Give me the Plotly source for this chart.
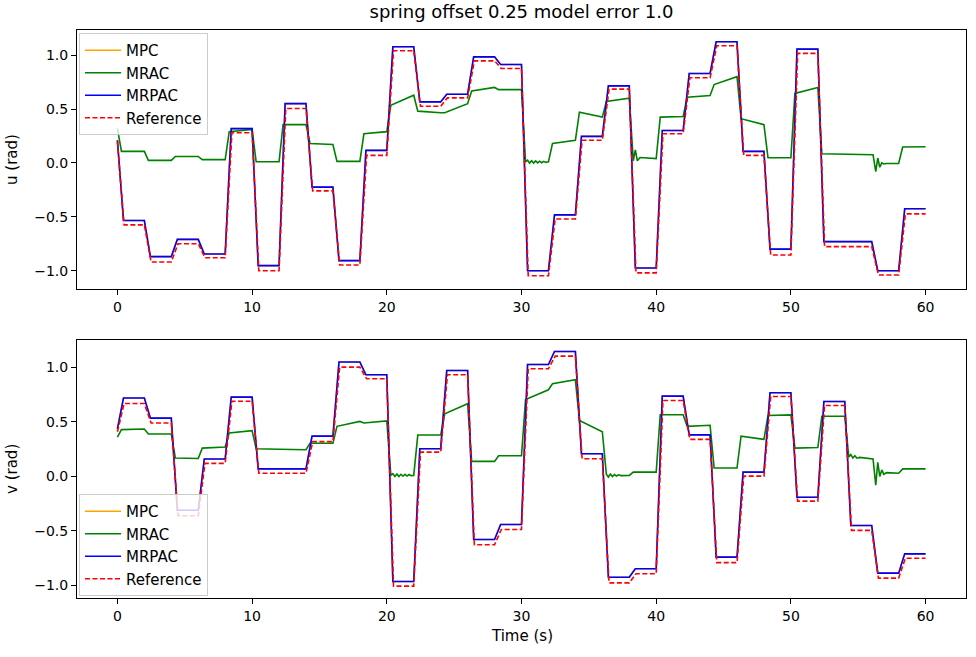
import plotly.graph_objects as go

# ---------------- data ----------------
step_times = [0, 2, 4, 6, 8, 10, 12, 14, 16, 18, 20, 22, 24, 26, 28,
              30, 32, 34, 36, 38, 40, 42, 44, 46, 48, 50, 52, 54, 56, 58]
end_time = 60
x_ticks = [0, 10, 20, 30, 40, 50, 60]
y_ticks = [-1.0, -0.5, 0.0, 0.5, 1.0]

# u (rad) -- top panel
u_ref_init = 0.20
u_ref = [-0.575, -0.92, -0.75, -0.88, 0.28, -1.0, 0.505, -0.26, -0.947, 0.07,
         1.04, 0.525, 0.603, 0.947, 0.876, -1.047, -0.52, 0.21, 0.684, -1.02,
         0.27, 0.79, 1.087, 0.07, -0.854, 1.016, -0.777, -0.777, -1.04, -0.473]
u_mrpac_init = 0.21
u_mrpac = [-0.535, -0.87, -0.71, -0.845, 0.318, -0.953, 0.55, -0.225, -0.907, 0.116,
           1.077, 0.566, 0.637, 0.984, 0.913, -1.0, -0.482, 0.246, 0.715, -0.975,
           0.30, 0.83, 1.124, 0.107, -0.80, 1.056, -0.73, -0.73, -1.0, -0.426]
u_mpc_init = 0.21
u_mpc = [-0.535, -0.87, -0.71, -0.845, 0.318, -0.953, 0.55, -0.225, -0.907, 0.116,
         1.077, 0.566, 0.637, 0.984, 0.913, -1.0, -0.482, 0.246, 0.715, -0.975,
         0.30, 0.83, 1.124, 0.107, -0.80, 1.056, -0.73, -0.73, -1.0, -0.426]
u_mrac_init = 0.32
u_mrac_start = [0.107, 0.023, 0.06, 0.03, 0.29, 0.01, 0.355, 0.18, 0.014, 0.27,
                0.535, 0.48, 0.465, 0.668, 0.68, 0.01, 0.18, 0.47, 0.57, 0.04,
                0.425, 0.61, 0.727, 0.41, 0.048, 0.644, 0.085, 0.08, -0.005, 0.147]
u_mrac_end = [0.107, 0.023, 0.06, 0.03, 0.31, 0.01, 0.355, 0.17, 0.014, 0.29,
              0.628, 0.465, 0.55, 0.70, 0.68, 0.01, 0.21, 0.425, 0.60, 0.04,
              0.43, 0.625, 0.80, 0.355, 0.048, 0.70, 0.08, 0.075, -0.005, 0.15]
u_mrac_extra_t = [30.3, 30.45, 30.6, 30.75, 30.9, 31.05, 31.2, 31.35, 31.5, 31.65, 31.8,
                  38.3, 38.45, 38.6, 38.8,
                  56.1, 56.3, 56.45, 56.6, 56.75, 56.9, 57.1]
u_mrac_extra_y = [0.01, 0.025, -0.002, 0.02, -0.002, 0.018, 0.0, 0.016, 0.002, 0.014, 0.005,
                  0.02, 0.12, 0.02, 0.05,
                  0.075, -0.08, 0.045, -0.04, 0.0, -0.01, -0.005]

# v (rad) -- bottom panel
v_ref_init = 0.41
v_ref = [0.67, 0.49, -0.36, 0.12, 0.69, 0.03, 0.03, 0.32, 1.003, 0.896,
         -1.006, 0.223, 0.933, -0.627, -0.486, 0.988, 1.104, 0.162, -0.976, -0.893,
         0.697, 0.34, -0.79, 0.003, 0.734, -0.226, 0.651, -0.495, -0.933, -0.75]
v_mrpac_init = 0.437
v_mrpac = [0.72, 0.535, -0.31, 0.16, 0.728, 0.07, 0.07, 0.37, 1.05, 0.933,
           -0.963, 0.254, 0.972, -0.578, -0.44, 1.027, 1.147, 0.208, -0.924, -0.847,
           0.737, 0.382, -0.74, 0.04, 0.768, -0.19, 0.688, -0.45, -0.887, -0.71]
v_mpc_init = 0.437
v_mpc = [0.72, 0.535, -0.31, 0.16, 0.728, 0.07, 0.07, 0.37, 1.05, 0.933,
         -0.963, 0.254, 0.972, -0.578, -0.44, 1.027, 1.147, 0.208, -0.924, -0.847,
         0.737, 0.382, -0.74, 0.04, 0.768, -0.19, 0.688, -0.45, -0.887, -0.71]
v_mrac_init = 0.36
v_mrac_start = [0.43, 0.39, 0.17, 0.26, 0.40, 0.254, 0.25, 0.305, 0.46, 0.49,
                0.01, 0.38, 0.575, 0.138, 0.19, 0.706, 0.85, 0.514, 0.01, 0.04,
                0.566, 0.46, 0.077, 0.37, 0.56, 0.26, 0.553, 0.177, 0.03, 0.07]
v_mrac_end = [0.435, 0.39, 0.165, 0.27, 0.42, 0.25, 0.245, 0.305, 0.505, 0.51,
              0.01, 0.38, 0.667, 0.138, 0.19, 0.795, 0.887, 0.41, 0.01, 0.04,
              0.566, 0.47, 0.077, 0.34, 0.565, 0.265, 0.553, 0.16, 0.03, 0.07]
v_mrac_extra_t = [20.3, 20.45, 20.6, 20.75, 20.9, 21.05, 21.2, 21.35, 21.5, 21.65, 21.8,
                  36.3, 36.45, 36.6, 36.75, 36.9, 37.05, 37.2, 37.4,
                  54.3, 54.45, 54.6, 54.75, 54.9, 55.1,
                  56.1, 56.3, 56.45, 56.6, 56.75, 56.9, 57.1]
v_mrac_extra_y = [0.01, 0.025, 0.0, 0.022, 0.0, 0.02, 0.002, 0.02, 0.004, 0.018, 0.008,
                  0.02, -0.005, 0.022, 0.0, 0.018, 0.004, 0.015, 0.008,
                  0.18, 0.2, 0.17, 0.19, 0.168, 0.175,
                  0.16, -0.08, 0.13, 0.0, 0.06, 0.02, 0.035]


# ---------------- helpers ----------------
def build(init, starts, ends, ramp, extra_t=(), extra_y=()):
    """Knots: each read level is held from (step + ramp) to the next step."""
    pts = [(0.0, init)]
    for i, T in enumerate(step_times):
        Tn = step_times[i + 1] if i + 1 < len(step_times) else end_time
        has_extra = any(T < et < T + 1.0 for et in extra_t)
        if not has_extra:
            pts.append((T + ramp, starts[i]))
        pts.append((Tn, ends[i]))
    pts += list(zip(extra_t, extra_y))
    pts.sort(key=lambda p: p[0])
    return [p[0] for p in pts], [p[1] for p in pts]


FONT = "DejaVu Sans"
W, H = 976, 657
fig = go.Figure()

panels = [
    ("x", "y", "legend",
     (u_mpc_init, u_mpc), (u_mrac_init, u_mrac_start, u_mrac_end, u_mrac_extra_t, u_mrac_extra_y),
     (u_mrpac_init, u_mrpac), (u_ref_init, u_ref)),
    ("x2", "y2", "legend2",
     (v_mpc_init, v_mpc), (v_mrac_init, v_mrac_start, v_mrac_end, v_mrac_extra_t, v_mrac_extra_y),
     (v_mrpac_init, v_mrpac), (v_ref_init, v_ref)),
]

for xa, ya, lg, mpc, mrac, mrpac, ref in panels:
    tx, ty = build(mpc[0], mpc[1], mpc[1], 0.45)
    fig.add_trace(go.Scatter(x=tx, y=ty, mode="lines", name="MPC",
                             line=dict(color="orange", width=1.6),
                             xaxis=xa, yaxis=ya, legend=lg, legendgroup=lg + "a"))
    tx, ty = build(mrac[0], mrac[1], mrac[2], 0.3, mrac[3], mrac[4])
    fig.add_trace(go.Scatter(x=tx, y=ty, mode="lines", name="MRAC",
                             line=dict(color="green", width=1.6),
                             xaxis=xa, yaxis=ya, legend=lg, legendgroup=lg + "b"))
    tx, ty = build(mrpac[0], mrpac[1], mrpac[1], 0.45)
    fig.add_trace(go.Scatter(x=tx, y=ty, mode="lines", name="MRPAC",
                             line=dict(color="blue", width=1.6),
                             xaxis=xa, yaxis=ya, legend=lg, legendgroup=lg + "c"))
    tx, ty = build(ref[0], ref[1], ref[1], 0.5)
    fig.add_trace(go.Scatter(x=tx, y=ty, mode="lines", name="Reference",
                             line=dict(color="red", width=1.6, dash="5px,2.5px"),
                             xaxis=xa, yaxis=ya, legend=lg, legendgroup=lg + "d"))

xdom = [77 / W, 966 / W]
axis_common = dict(showline=True, linecolor="black", linewidth=1, mirror=True,
                   ticks="outside", ticklen=5, tickcolor="black", showgrid=False,
                   zeroline=False, tickfont=dict(family=FONT, size=14, color="black"),
                   automargin=False)

legend_common = dict(xanchor="left", bgcolor="rgba(255,255,255,0.8)", bordercolor="#cccccc",
                     borderwidth=1, font=dict(family=FONT, size=15, color="black"),
                     tracegroupgap=0, itemwidth=36)

fig.update_layout(
    width=W, height=H,
    margin=dict(l=0, r=0, t=0, b=0),
    paper_bgcolor="white", plot_bgcolor="white",
    font=dict(family=FONT, size=14, color="black"),
    showlegend=True,
    title=dict(text="spring offset 0.25 model error 1.0", x=521.5 / W, xanchor="center",
               y=1 - 12 / H, yanchor="middle", font=dict(family=FONT, size=18, color="black")),
    xaxis=dict(domain=xdom, range=[-3, 63], anchor="y", tickvals=x_ticks, **axis_common),
    yaxis=dict(domain=[1 - 289 / H, 1 - 30 / H], range=[-1.17, 1.233], anchor="x",
               tickvals=y_ticks, tickformat=".1f", **axis_common),
    xaxis2=dict(domain=xdom, range=[-3, 63], anchor="y2", tickvals=x_ticks, **axis_common),
    yaxis2=dict(domain=[1 - 598 / H, 1 - 340 / H], range=[-1.115, 1.252], anchor="x2",
                tickvals=y_ticks, tickformat=".1f", **axis_common),
    legend=dict(x=79 / W, y=1 - 33 / H, yanchor="top", **legend_common),
    legend2=dict(x=79 / W, y=1 - 596 / H, yanchor="bottom", **legend_common),
    annotations=[
        dict(text="u (rad)", xref="paper", yref="paper", x=12 / W, y=1 - 160 / H,
             showarrow=False, textangle=-90, xanchor="center", yanchor="middle",
             font=dict(family=FONT, size=15, color="black")),
        dict(text="v (rad)", xref="paper", yref="paper", x=12 / W, y=1 - 469 / H,
             showarrow=False, textangle=-90, xanchor="center", yanchor="middle",
             font=dict(family=FONT, size=15, color="black")),
        dict(text="Time (s)", xref="paper", yref="paper", x=521.5 / W, y=1 - 636 / H,
             showarrow=False, xanchor="center", yanchor="middle",
             font=dict(family=FONT, size=15, color="black")),
    ],
)

fig.write_html("out.html", config={"displayModeBar": False},
               post_script="document.body.style.margin='0';document.body.style.overflow='hidden';")
